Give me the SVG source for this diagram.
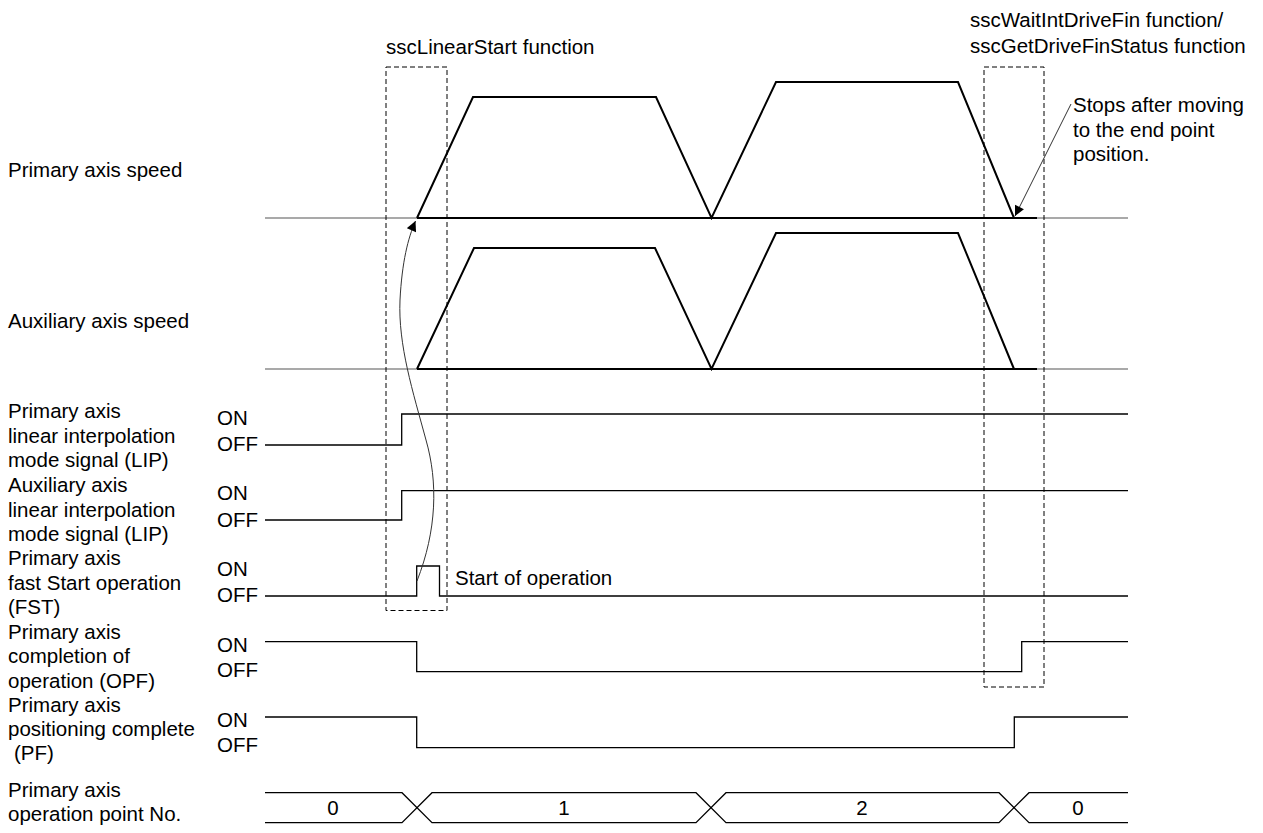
<svg xmlns="http://www.w3.org/2000/svg" width="1263" height="833" viewBox="0 0 1263 833">
<defs>
<style>
text{font-family:"Liberation Sans",Arial,sans-serif;font-size:20.5px;fill:#000}
.m{text-anchor:middle}
.sig{fill:none;stroke:#000;stroke-width:1.3}
.spd{fill:none;stroke:#000;stroke-width:2}
.thin{fill:none;stroke:#555;stroke-width:1.2}
.dash{fill:none;stroke:#000;stroke-width:1;stroke-dasharray:5,3}
.lead{fill:none;stroke:#333;stroke-width:1}
</style>
<marker id="ah" viewBox="0 0 10 10" refX="10" refY="5" markerWidth="12" markerHeight="10" markerUnits="userSpaceOnUse" orient="auto">
<path d="M0,0 L10,5 L0,10 Z" fill="#000"/>
</marker>
</defs>
<rect width="1263" height="833" fill="#fff"/>

<g id="titles">
<text x="386" y="54">sscLinearStart function</text>
<text x="970" y="27">sscWaitIntDriveFin function/</text>
<text x="970" y="53">sscGetDriveFinStatus function</text>
</g>

<g id="primary-speed">
<text x="8" y="177">Primary axis speed</text>
<path class="thin" d="M265,218 H417 M1037,218 H1128"/>
<path class="spd" d="M417,218 H1037"/>
<path class="spd" d="M417,218 L473,97 H656 L711.5,218 L776,82 H958 L1014,218"/>
</g>

<g id="aux-speed">
<text x="8" y="328">Auxiliary axis speed</text>
<path class="thin" d="M265,369 H417 M1037,369 H1128"/>
<path class="spd" d="M417,369 H1037"/>
<path class="spd" d="M417,369 L474,248 H655 L711.5,369 L776,233 H958 L1014,369"/>
</g>

<g id="primary-lip">
<text x="8" y="418">Primary axis</text>
<text x="8" y="443">linear interpolation</text>
<text x="8" y="467">mode signal (LIP)</text>
<text x="217" y="425">ON</text>
<text x="217" y="451">OFF</text>
<path class="sig" d="M265,445 H401.7 V414 H1128"/>
</g>

<g id="aux-lip">
<text x="8" y="492">Auxiliary axis</text>
<text x="8" y="517">linear interpolation</text>
<text x="8" y="541">mode signal (LIP)</text>
<text x="217" y="500">ON</text>
<text x="217" y="527">OFF</text>
<path class="sig" d="M265,520 H401.7 V490.7 H1128"/>
</g>

<g id="primary-fst">
<text x="8" y="565">Primary axis</text>
<text x="8" y="590">fast Start operation</text>
<text x="8" y="614">(FST)</text>
<text x="217" y="576">ON</text>
<text x="217" y="602">OFF</text>
<path class="sig" d="M265,596 H416.7 V566 H439.5 V596 H1128"/>
<text x="455" y="585">Start of operation</text>
</g>

<g id="primary-opf">
<text x="8" y="639">Primary axis</text>
<text x="8" y="663">completion of</text>
<text x="8" y="688">operation (OPF)</text>
<text x="217" y="652">ON</text>
<text x="217" y="677">OFF</text>
<path class="sig" d="M265,641.7 H416.7 V671.7 H1021.7 V641.7 H1128"/>
</g>

<g id="primary-pf">
<text x="8" y="712">Primary axis</text>
<text x="8" y="736">positioning complete</text>
<text x="14" y="760">(PF)</text>
<text x="217" y="727">ON</text>
<text x="217" y="752">OFF</text>
<path class="sig" d="M265,717 H416.7 V747.7 H1014.3 V717 H1128"/>
</g>

<g id="operation-point">
<text x="8" y="797">Primary axis</text>
<text x="8" y="821">operation point No.</text>
<path class="sig" d="M265,792.7 H402 L432,822.7 H696 L726,792.7 H999 L1029,822.7 H1128 M265,822.7 H402 L432,792.7 H696 L726,822.7 H999 L1029,792.7 H1128"/>
<text class="m" x="333" y="815">0</text>
<text class="m" x="564" y="815">1</text>
<text class="m" x="862" y="815">2</text>
<text class="m" x="1078" y="815">0</text>
</g>

<g id="box-start">
<rect class="dash" x="386" y="67" width="61" height="543.5"/>
</g>
<g id="box-fin">
<rect class="dash" x="984" y="67" width="60" height="620"/>
</g>

<g id="stop-note">
<text x="1073" y="112">Stops after moving</text>
<text x="1073" y="137">to the end point</text>
<text x="1073" y="161">position.</text>
</g>

<g id="connectors">
<path class="lead" d="M417,581 C437,530 438,482 426,440 C413,392 398,345 400,300 C402,262 408,238 415.5,221" marker-end="url(#ah)"/>
<path class="lead" d="M1071,104 L1015,216" marker-end="url(#ah)"/>
</g>
</svg>
